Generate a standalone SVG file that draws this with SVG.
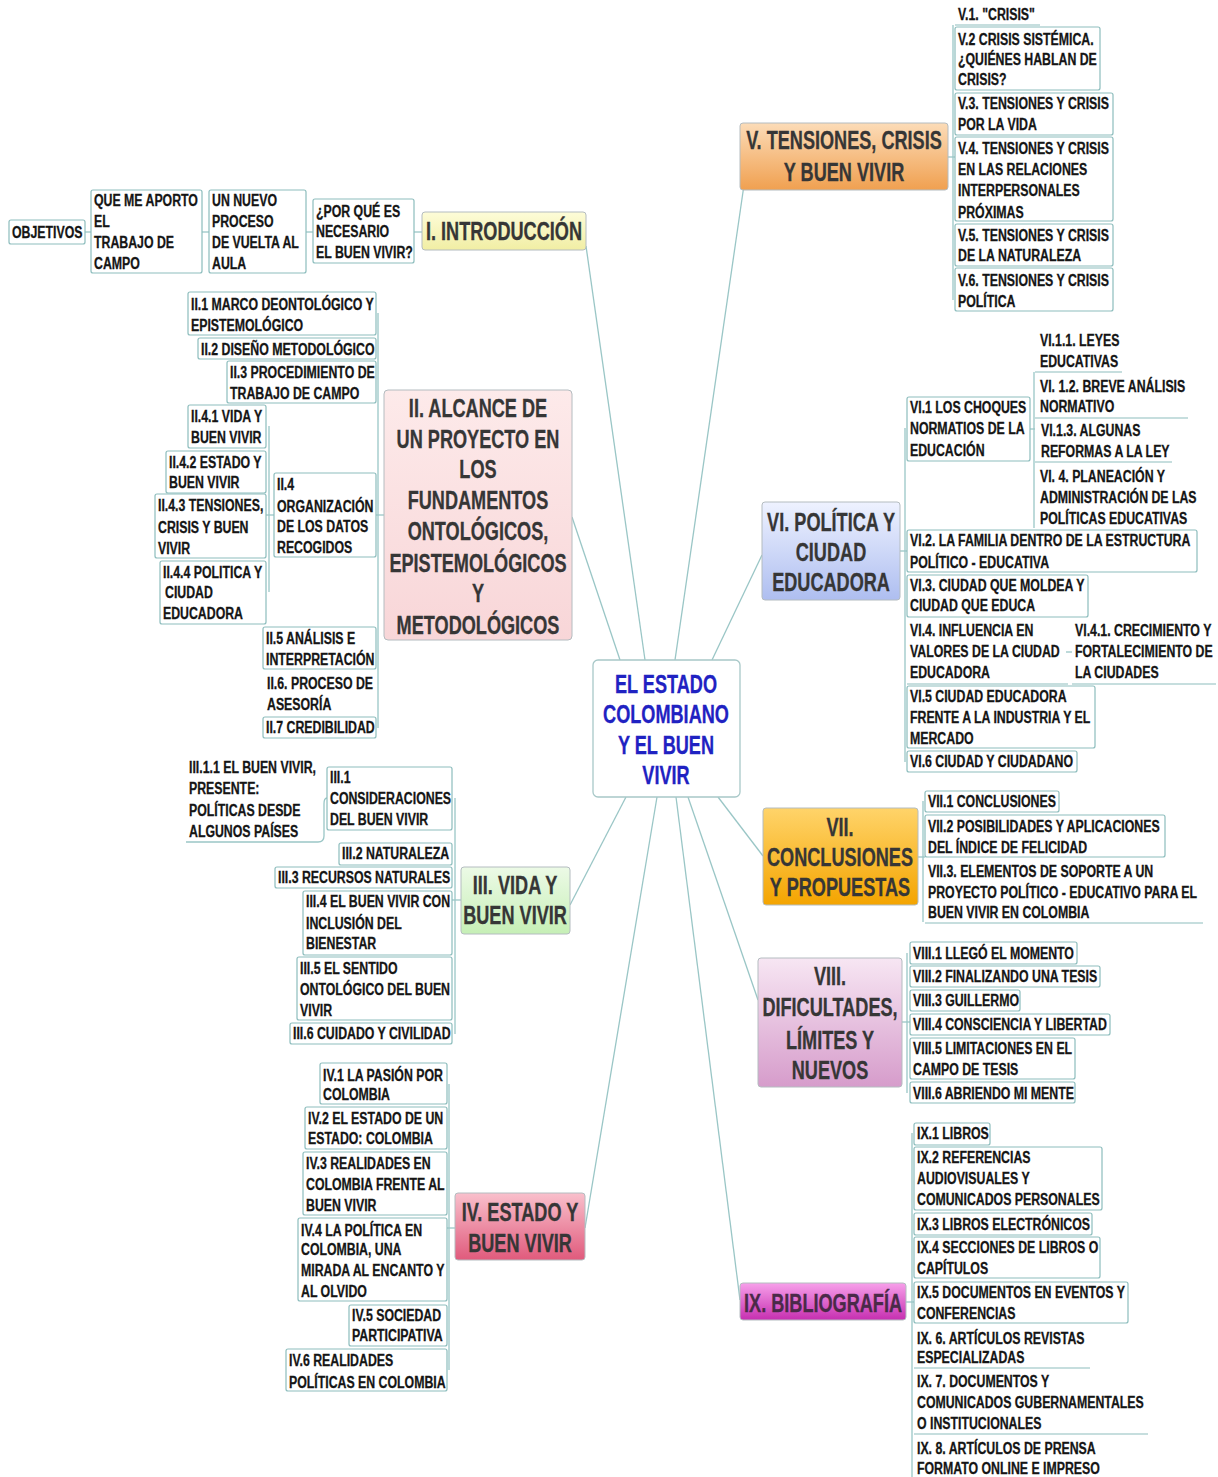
<svg xmlns="http://www.w3.org/2000/svg" width="1218" height="1477" viewBox="0 0 1218 1477">
<style>
.s{font-family:"Liberation Sans",Arial,sans-serif;font-weight:bold;font-size:17px;fill:#151515;stroke:#151515;stroke-width:0.3;transform-box:fill-box;transform-origin:left center;transform:scaleX(0.725)}
.h{font-family:"Liberation Sans",Arial,sans-serif;font-weight:bold;font-size:25px;fill:#363636;stroke:#363636;stroke-width:0.3;text-anchor:middle;transform-box:fill-box;transform-origin:center;transform:scaleX(0.725)}
.c{fill:#1f22c2;stroke:#1f22c2}
.b{fill:#fff;stroke:#8dbdbd;stroke-width:1.2}
.m{stroke:#b4bcc0;stroke-width:1}
.u{stroke:#8dbdbd;stroke-width:1.2;fill:none}
.k{stroke:#9ac6c6;stroke-width:1.3;fill:none}
</style>
<defs>
<linearGradient id="gI" x1="0" y1="0" x2="0" y2="1"><stop offset="0" stop-color="#fdfcd8"/><stop offset="1" stop-color="#f1eea4"/></linearGradient>
<linearGradient id="gII" x1="0" y1="0" x2="0" y2="1"><stop offset="0" stop-color="#fdeaea"/><stop offset="1" stop-color="#f8d6d8"/></linearGradient>
<linearGradient id="gIII" x1="0" y1="0" x2="0" y2="1"><stop offset="0" stop-color="#ecfae6"/><stop offset="1" stop-color="#c6efb6"/></linearGradient>
<linearGradient id="gIV" x1="0" y1="0" x2="0" y2="1"><stop offset="0" stop-color="#f9c0cc"/><stop offset="1" stop-color="#e05a7c"/></linearGradient>
<linearGradient id="gV" x1="0" y1="0" x2="0" y2="1"><stop offset="0" stop-color="#fcdcb8"/><stop offset="1" stop-color="#f0a050"/></linearGradient>
<linearGradient id="gVI" x1="0" y1="0" x2="0" y2="1"><stop offset="0" stop-color="#eef2ff"/><stop offset="1" stop-color="#aebef0"/></linearGradient>
<linearGradient id="gVII" x1="0" y1="0" x2="0" y2="1"><stop offset="0" stop-color="#ffd46a"/><stop offset="1" stop-color="#f4a400"/></linearGradient>
<linearGradient id="gVIII" x1="0" y1="0" x2="0" y2="1"><stop offset="0" stop-color="#f7e6f3"/><stop offset="1" stop-color="#d69ccb"/></linearGradient>
<linearGradient id="gIX" x1="0" y1="0" x2="0" y2="1"><stop offset="0" stop-color="#f7a0ea"/><stop offset="1" stop-color="#c62fb0"/></linearGradient>
</defs>
<rect width="1218" height="1477" fill="#fff"/>

<g id="connectors">
<line class="k" x1="586" y1="246" x2="645" y2="660"/>
<line class="k" x1="572" y1="517" x2="620" y2="660"/>
<line class="k" x1="570" y1="905" x2="626" y2="797"/>
<line class="k" x1="585" y1="1228" x2="657" y2="797"/>
<line class="k" x1="744" y1="185" x2="675" y2="660"/>
<line class="k" x1="762" y1="555" x2="712" y2="660"/>
<line class="k" x1="763" y1="856" x2="718" y2="797"/>
<line class="k" x1="758" y1="1000" x2="688" y2="797"/>
<line class="k" x1="740" y1="1300" x2="676" y2="797"/>
<line class="k" x1="85" y1="232" x2="91" y2="232"/>
<line class="k" x1="202" y1="232" x2="209" y2="232"/>
<line class="k" x1="306" y1="232" x2="313" y2="232"/>
<line class="k" x1="414" y1="232" x2="422" y2="232"/>
<line class="k" x1="378" y1="313" x2="378" y2="728"/>
<line class="k" x1="376" y1="515" x2="384" y2="515"/>
<line class="k" x1="269" y1="426" x2="269" y2="592"/>
<line class="k" x1="266" y1="515" x2="274" y2="515"/>
<line class="k" x1="455" y1="798" x2="455" y2="1034"/>
<line class="k" x1="452" y1="900" x2="461" y2="900"/>
<path class="k" d="M186,842 H318 Q324,842 324,836 V804 Q324,798 327,798"/>
<line class="k" x1="449" y1="1084" x2="449" y2="1370"/>
<line class="k" x1="447" y1="1228" x2="455" y2="1228"/>
<line class="k" x1="953" y1="25" x2="953" y2="300"/>
<line class="k" x1="948" y1="157" x2="955" y2="157"/>
<line class="k" x1="905" y1="428" x2="905" y2="762"/>
<line class="k" x1="900" y1="551" x2="907" y2="551"/>
<line class="k" x1="1034" y1="372" x2="1034" y2="528"/>
<line class="k" x1="1030" y1="429" x2="1035" y2="429"/>
<line class="k" x1="1066" y1="652" x2="1072" y2="652"/>
<line class="k" x1="923" y1="801" x2="923" y2="922"/>
<line class="k" x1="918" y1="857" x2="925" y2="857"/>
<line class="k" x1="907" y1="953" x2="907" y2="1093"/>
<line class="k" x1="902" y1="1022" x2="910" y2="1022"/>
<line class="k" x1="912" y1="1133" x2="912" y2="1477"/>
<line class="k" x1="906" y1="1302" x2="914" y2="1302"/>
</g>

<g id="center">
<rect x="593" y="660" width="147" height="137" rx="5" fill="#fff" stroke="#a8c8c8" stroke-width="1.3"/>
<text class="h c" x="666" y="693">EL ESTADO</text>
<text class="h c" x="666" y="723">COLOMBIANO</text>
<text class="h c" x="666" y="754">Y EL BUEN</text>
<text class="h c" x="666" y="784">VIVIR</text>
</g>

<g id="n-I">
<rect x="422" y="212" width="164" height="38" rx="3" fill="url(#gI)" class="m"/>
<text class="h" x="504" y="240">I. INTRODUCCIÓN</text>
</g>
<g id="n-I-1"><rect class="b" x="313" y="199" width="101" height="64" rx="2"/>
<text class="s" x="316" y="217">¿POR QUÉ ES</text><text class="s" x="316" y="237">NECESARIO</text><text class="s" x="316" y="258">EL BUEN VIVIR?</text></g>
<g id="n-I-2"><rect class="b" x="209" y="190" width="97" height="83" rx="2"/>
<text class="s" x="212" y="206">UN NUEVO</text><text class="s" x="212" y="227">PROCESO</text><text class="s" x="212" y="248">DE VUELTA AL</text><text class="s" x="212" y="269">AULA</text></g>
<g id="n-I-3"><rect class="b" x="91" y="190" width="111" height="83" rx="2"/>
<text class="s" x="94" y="206">QUE ME APORTO</text><text class="s" x="94" y="227">EL</text><text class="s" x="94" y="248">TRABAJO DE</text><text class="s" x="94" y="269">CAMPO</text></g>
<g id="n-I-4"><rect class="b" x="9" y="220" width="76" height="24" rx="2"/>
<text class="s" x="12" y="238">OBJETIVOS</text></g>

<g id="n-II">
<rect x="384" y="390" width="188" height="250" rx="4" fill="url(#gII)" class="m"/>
<text class="h" x="478" y="417">II. ALCANCE DE</text>
<text class="h" x="478" y="448">UN PROYECTO EN</text>
<text class="h" x="478" y="478">LOS</text>
<text class="h" x="478" y="509">FUNDAMENTOS</text>
<text class="h" x="478" y="540">ONTOLÓGICOS,</text>
<text class="h" x="478" y="572">EPISTEMOLÓGICOS</text>
<text class="h" x="478" y="602">Y</text>
<text class="h" x="478" y="634">METODOLÓGICOS</text>
</g>
<g id="n-II-1"><rect class="b" x="188" y="292" width="188" height="43" rx="2"/>
<text class="s" x="191" y="310">II.1 MARCO DEONTOLÓGICO Y</text><text class="s" x="191" y="331">EPISTEMOLÓGICO</text></g>
<g id="n-II-2"><rect class="b" x="198" y="338" width="178" height="21" rx="2"/>
<text class="s" x="201" y="355">II.2 DISEÑO METODOLÓGICO</text></g>
<g id="n-II-3"><rect class="b" x="227" y="361" width="149" height="42" rx="2"/>
<text class="s" x="230" y="378">II.3 PROCEDIMIENTO DE</text><text class="s" x="230" y="399">TRABAJO DE CAMPO</text></g>
<g id="n-II-4"><rect class="b" x="274" y="473" width="102" height="84" rx="2"/>
<text class="s" x="277" y="490">II.4</text><text class="s" x="277" y="512">ORGANIZACIÓN</text><text class="s" x="277" y="532">DE LOS DATOS</text><text class="s" x="277" y="553">RECOGIDOS</text></g>
<g id="n-II-4-1"><rect class="b" x="188" y="405" width="78" height="43" rx="2"/>
<text class="s" x="191" y="422">II.4.1 VIDA Y</text><text class="s" x="191" y="443">BUEN VIVIR</text></g>
<g id="n-II-4-2"><rect class="b" x="166" y="451" width="100" height="42" rx="2"/>
<text class="s" x="169" y="468">II.4.2 ESTADO Y</text><text class="s" x="169" y="488">BUEN VIVIR</text></g>
<g id="n-II-4-3"><rect class="b" x="155" y="494" width="111" height="64" rx="2"/>
<text class="s" x="158" y="511">II.4.3 TENSIONES,</text><text class="s" x="158" y="533">CRISIS Y BUEN</text><text class="s" x="158" y="554">VIVIR</text></g>
<g id="n-II-4-4"><rect class="b" x="160" y="561" width="106" height="63" rx="2"/>
<text class="s" x="163" y="578">II.4.4 POLITICA Y</text><text class="s" x="165" y="598">CIUDAD</text><text class="s" x="163" y="619">EDUCADORA</text></g>
<g id="n-II-5"><rect class="b" x="263" y="627" width="113" height="42" rx="2"/>
<text class="s" x="266" y="644">II.5 ANÁLISIS E</text><text class="s" x="266" y="665">INTERPRETACIÓN</text></g>
<g id="n-II-6">
<text class="s" x="267" y="689">II.6. PROCESO DE</text><text class="s" x="267" y="710">ASESORÍA</text></g>
<g id="n-II-7"><rect class="b" x="263" y="717" width="113" height="21" rx="2"/>
<text class="s" x="266" y="733">II.7 CREDIBILIDAD</text></g>

<g id="n-III">
<rect x="461" y="867" width="109" height="67" rx="3" fill="url(#gIII)" class="m"/>
<text class="h" x="515" y="894">III. VIDA Y</text>
<text class="h" x="515" y="924">BUEN VIVIR</text>
</g>
<g id="n-III-1"><rect class="b" x="327" y="767" width="125" height="63" rx="2"/>
<text class="s" x="330" y="783">III.1</text><text class="s" x="330" y="804">CONSIDERACIONES</text><text class="s" x="330" y="825">DEL BUEN VIVIR</text></g>
<g id="n-III-1-1">
<text class="s" x="189" y="773">III.1.1 EL BUEN VIVIR,</text><text class="s" x="189" y="794">PRESENTE:</text><text class="s" x="189" y="816">POLÍTICAS DESDE</text><text class="s" x="189" y="837">ALGUNOS PAÍSES</text></g>
<g id="n-III-2"><rect class="b" x="339" y="843" width="113" height="22" rx="2"/>
<text class="s" x="342" y="859">III.2 NATURALEZA</text></g>
<g id="n-III-3"><rect class="b" x="275" y="867" width="177" height="21" rx="2"/>
<text class="s" x="278" y="883">III.3 RECURSOS NATURALES</text></g>
<g id="n-III-4"><rect class="b" x="303" y="891" width="149" height="64" rx="2"/>
<text class="s" x="306" y="907">III.4 EL BUEN VIVIR CON</text><text class="s" x="306" y="929">INCLUSIÓN DEL</text><text class="s" x="306" y="949">BIENESTAR</text></g>
<g id="n-III-5"><rect class="b" x="297" y="957" width="155" height="63" rx="2"/>
<text class="s" x="300" y="974">III.5 EL SENTIDO</text><text class="s" x="300" y="995">ONTOLÓGICO DEL BUEN</text><text class="s" x="300" y="1016">VIVIR</text></g>
<g id="n-III-6"><rect class="b" x="290" y="1023" width="162" height="21" rx="2"/>
<text class="s" x="293" y="1039">III.6 CUIDADO Y CIVILIDAD</text></g>

<g id="n-IV">
<rect x="455" y="1193" width="130" height="67" rx="3" fill="url(#gIV)" class="m"/>
<text class="h" x="520" y="1221">IV. ESTADO Y</text>
<text class="h" x="520" y="1252">BUEN VIVIR</text>
</g>
<g id="n-IV-1"><rect class="b" x="320" y="1063" width="127" height="41" rx="2"/>
<text class="s" x="323" y="1081">IV.1 LA PASIÓN POR</text><text class="s" x="323" y="1100">COLOMBIA</text></g>
<g id="n-IV-2"><rect class="b" x="305" y="1107" width="142" height="42" rx="2"/>
<text class="s" x="308" y="1124">IV.2 EL ESTADO DE UN</text><text class="s" x="308" y="1144">ESTADO: COLOMBIA</text></g>
<g id="n-IV-3"><rect class="b" x="303" y="1152" width="144" height="63" rx="2"/>
<text class="s" x="306" y="1169">IV.3 REALIDADES EN</text><text class="s" x="306" y="1190">COLOMBIA FRENTE AL</text><text class="s" x="306" y="1211">BUEN VIVIR</text></g>
<g id="n-IV-4"><rect class="b" x="298" y="1218" width="149" height="83" rx="2"/>
<text class="s" x="301" y="1236">IV.4 LA POLÍTICA EN</text><text class="s" x="301" y="1255">COLOMBIA, UNA</text><text class="s" x="301" y="1276">MIRADA AL ENCANTO Y</text><text class="s" x="301" y="1297">AL OLVIDO</text></g>
<g id="n-IV-5"><rect class="b" x="349" y="1305" width="98" height="41" rx="2"/>
<text class="s" x="352" y="1321">IV.5 SOCIEDAD</text><text class="s" x="352" y="1341">PARTICIPATIVA</text></g>
<g id="n-IV-6"><rect class="b" x="286" y="1349" width="161" height="42" rx="2"/>
<text class="s" x="289" y="1366">IV.6 REALIDADES</text><text class="s" x="289" y="1388">POLÍTICAS EN COLOMBIA</text></g>

<g id="n-V">
<rect x="740" y="123" width="208" height="67" rx="3" fill="url(#gV)" class="m"/>
<text class="h" x="844" y="149">V. TENSIONES, CRISIS</text>
<text class="h" x="844" y="181">Y BUEN VIVIR</text>
</g>
<g id="n-V-1"><line class="u" x1="955" y1="25" x2="1040" y2="25"/>
<text class="s" x="958" y="20">V.1. "CRISIS"</text></g>
<g id="n-V-2"><rect class="b" x="955" y="27" width="145" height="63" rx="2"/>
<text class="s" x="958" y="45">V.2 CRISIS SISTÉMICA.</text><text class="s" x="958" y="65">¿QUIÉNES HABLAN DE</text><text class="s" x="958" y="85">CRISIS?</text></g>
<g id="n-V-3"><rect class="b" x="955" y="93" width="158" height="42" rx="2"/>
<text class="s" x="958" y="109">V.3. TENSIONES Y CRISIS</text><text class="s" x="958" y="130">POR LA VIDA</text></g>
<g id="n-V-4"><rect class="b" x="955" y="137" width="158" height="84" rx="2"/>
<text class="s" x="958" y="154">V.4. TENSIONES Y CRISIS</text><text class="s" x="958" y="175">EN LAS RELACIONES</text><text class="s" x="958" y="196">INTERPERSONALES</text><text class="s" x="958" y="218">PRÓXIMAS</text></g>
<g id="n-V-5"><rect class="b" x="955" y="224" width="158" height="42" rx="2"/>
<text class="s" x="958" y="241">V.5. TENSIONES Y CRISIS</text><text class="s" x="958" y="261">DE LA NATURALEZA</text></g>
<g id="n-V-6"><rect class="b" x="955" y="268" width="158" height="43" rx="2"/>
<text class="s" x="958" y="286">V.6. TENSIONES Y CRISIS</text><text class="s" x="958" y="307">POLÍTICA</text></g>

<g id="n-VI">
<rect x="762" y="502" width="138" height="98" rx="3" fill="url(#gVI)" class="m"/>
<text class="h" x="831" y="531">VI. POLÍTICA Y</text>
<text class="h" x="831" y="561">CIUDAD</text>
<text class="h" x="831" y="591">EDUCADORA</text>
</g>
<g id="n-VI-1"><rect class="b" x="907" y="397" width="123" height="64" rx="2"/>
<text class="s" x="910" y="413">VI.1 LOS CHOQUES</text><text class="s" x="910" y="434">NORMATIOS DE LA</text><text class="s" x="910" y="456">EDUCACIÓN</text></g>
<g id="n-VI-1-1"><line class="u" x1="1035" y1="372" x2="1122" y2="372"/>
<text class="s" x="1040" y="346">VI.1.1. LEYES</text><text class="s" x="1040" y="367">EDUCATIVAS</text></g>
<g id="n-VI-1-2"><line class="u" x1="1035" y1="418" x2="1188" y2="418"/>
<text class="s" x="1040" y="392">VI. 1.2. BREVE ANÁLISIS</text><text class="s" x="1040" y="412">NORMATIVO</text></g>
<g id="n-VI-1-3"><line class="u" x1="1035" y1="462" x2="1172" y2="462"/>
<text class="s" x="1041" y="436">VI.1.3. ALGUNAS</text><text class="s" x="1041" y="457">REFORMAS A LA LEY</text></g>
<g id="n-VI-1-4">
<text class="s" x="1040" y="482">VI. 4. PLANEACIÓN Y</text><text class="s" x="1040" y="503">ADMINISTRACIÓN DE LAS</text><text class="s" x="1040" y="524">POLÍTICAS EDUCATIVAS</text></g>
<g id="n-VI-2"><rect class="b" x="907" y="530" width="290" height="42" rx="2"/>
<text class="s" x="910" y="546">VI.2. LA FAMILIA DENTRO DE LA ESTRUCTURA</text><text class="s" x="910" y="568">POLÍTICO - EDUCATIVA</text></g>
<g id="n-VI-3"><rect class="b" x="907" y="575" width="181" height="42" rx="2"/>
<text class="s" x="910" y="591">VI.3. CIUDAD QUE MOLDEA Y</text><text class="s" x="910" y="611">CIUDAD QUE EDUCA</text></g>
<g id="n-VI-4"><line class="u" x1="907" y1="684" x2="1068" y2="684"/>
<text class="s" x="910" y="636">VI.4. INFLUENCIA EN</text><text class="s" x="910" y="657">VALORES DE LA CIUDAD</text><text class="s" x="910" y="678">EDUCADORA</text></g>
<g id="n-VI-4-1"><line class="u" x1="1072" y1="684" x2="1216" y2="684"/>
<text class="s" x="1075" y="636">VI.4.1. CRECIMIENTO Y</text><text class="s" x="1075" y="657">FORTALECIMIENTO DE</text><text class="s" x="1075" y="678">LA CIUDADES</text></g>
<g id="n-VI-5"><rect class="b" x="907" y="686" width="188" height="62" rx="2"/>
<text class="s" x="910" y="702">VI.5 CIUDAD EDUCADORA</text><text class="s" x="910" y="723">FRENTE A LA INDUSTRIA Y EL</text><text class="s" x="910" y="744">MERCADO</text></g>
<g id="n-VI-6"><rect class="b" x="907" y="751" width="170" height="21" rx="2"/>
<text class="s" x="910" y="767">VI.6 CIUDAD Y CIUDADANO</text></g>

<g id="n-VII">
<rect x="763" y="808" width="155" height="97" rx="3" fill="url(#gVII)" class="m"/>
<text class="h" x="840" y="836">VII.</text>
<text class="h" x="840" y="866">CONCLUSIONES</text>
<text class="h" x="840" y="896">Y PROPUESTAS</text>
</g>
<g id="n-VII-1"><rect class="b" x="925" y="791" width="134" height="21" rx="2"/>
<text class="s" x="928" y="807">VII.1 CONCLUSIONES</text></g>
<g id="n-VII-2"><rect class="b" x="925" y="815" width="240" height="42" rx="2"/>
<text class="s" x="928" y="832">VII.2 POSIBILIDADES Y APLICACIONES</text><text class="s" x="928" y="853">DEL ÍNDICE DE FELICIDAD</text></g>
<g id="n-VII-3"><line class="u" x1="925" y1="923" x2="1203" y2="923"/>
<text class="s" x="928" y="877">VII.3. ELEMENTOS DE SOPORTE A UN</text><text class="s" x="928" y="898">PROYECTO POLÍTICO - EDUCATIVO PARA EL</text><text class="s" x="928" y="918">BUEN VIVIR EN COLOMBIA</text></g>

<g id="n-VIII">
<rect x="758" y="958" width="144" height="129" rx="3" fill="url(#gVIII)" class="m"/>
<text class="h" x="830" y="985">VIII.</text>
<text class="h" x="830" y="1016">DIFICULTADES,</text>
<text class="h" x="830" y="1049">LÍMITES Y</text>
<text class="h" x="830" y="1079">NUEVOS</text>
</g>
<g id="n-VIII-1"><rect class="b" x="910" y="942" width="167" height="22" rx="2"/>
<text class="s" x="913" y="959">VIII.1 LLEGÓ EL MOMENTO</text></g>
<g id="n-VIII-2"><rect class="b" x="910" y="966" width="190" height="21" rx="2"/>
<text class="s" x="913" y="982">VIII.2 FINALIZANDO UNA TESIS</text></g>
<g id="n-VIII-3"><rect class="b" x="910" y="990" width="110" height="21" rx="2"/>
<text class="s" x="913" y="1006">VIII.3 GUILLERMO</text></g>
<g id="n-VIII-4"><rect class="b" x="910" y="1014" width="200" height="21" rx="2"/>
<text class="s" x="913" y="1030">VIII.4 CONSCIENCIA Y LIBERTAD</text></g>
<g id="n-VIII-5"><rect class="b" x="910" y="1038" width="165" height="41" rx="2"/>
<text class="s" x="913" y="1054">VIII.5 LIMITACIONES EN EL</text><text class="s" x="913" y="1075">CAMPO DE TESIS</text></g>
<g id="n-VIII-6"><rect class="b" x="910" y="1082" width="165" height="21" rx="2"/>
<text class="s" x="913" y="1099">VIII.6 ABRIENDO MI MENTE</text></g>

<g id="n-IX">
<rect x="740" y="1283" width="166" height="37" rx="3" fill="url(#gIX)" class="m"/>
<text class="h" x="823" y="1312" style="fill:#4a2a48;stroke:#4a2a48">IX. BIBLIOGRAFÍA</text>
</g>
<g id="n-IX-1"><rect class="b" x="914" y="1123" width="76" height="22" rx="2"/>
<text class="s" x="917" y="1139">IX.1 LIBROS</text></g>
<g id="n-IX-2"><rect class="b" x="914" y="1147" width="188" height="63" rx="2"/>
<text class="s" x="917" y="1163">IX.2 REFERENCIAS</text><text class="s" x="917" y="1184">AUDIOVISUALES Y</text><text class="s" x="917" y="1205">COMUNICADOS PERSONALES</text></g>
<g id="n-IX-3"><rect class="b" x="914" y="1213" width="178" height="22" rx="2"/>
<text class="s" x="917" y="1230">IX.3 LIBROS ELECTRÓNICOS</text></g>
<g id="n-IX-4"><rect class="b" x="914" y="1237" width="186" height="41" rx="2"/>
<text class="s" x="917" y="1253">IX.4 SECCIONES DE LIBROS O</text><text class="s" x="917" y="1274">CAPÍTULOS</text></g>
<g id="n-IX-5"><rect class="b" x="914" y="1282" width="214" height="41" rx="2"/>
<text class="s" x="917" y="1298">IX.5 DOCUMENTOS EN EVENTOS Y</text><text class="s" x="917" y="1319">CONFERENCIAS</text></g>
<g id="n-IX-6"><line class="u" x1="914" y1="1368" x2="1090" y2="1368"/>
<text class="s" x="917" y="1344">IX. 6. ARTÍCULOS REVISTAS</text><text class="s" x="917" y="1363">ESPECIALIZADAS</text></g>
<g id="n-IX-7"><line class="u" x1="914" y1="1434" x2="1148" y2="1434"/>
<text class="s" x="917" y="1387">IX. 7. DOCUMENTOS Y</text><text class="s" x="917" y="1408">COMUNICADOS GUBERNAMENTALES</text><text class="s" x="917" y="1429">O INSTITUCIONALES</text></g>
<g id="n-IX-8">
<text class="s" x="917" y="1454">IX. 8. ARTÍCULOS DE PRENSA</text><text class="s" x="917" y="1474">FORMATO ONLINE E IMPRESO</text></g>
</svg>
